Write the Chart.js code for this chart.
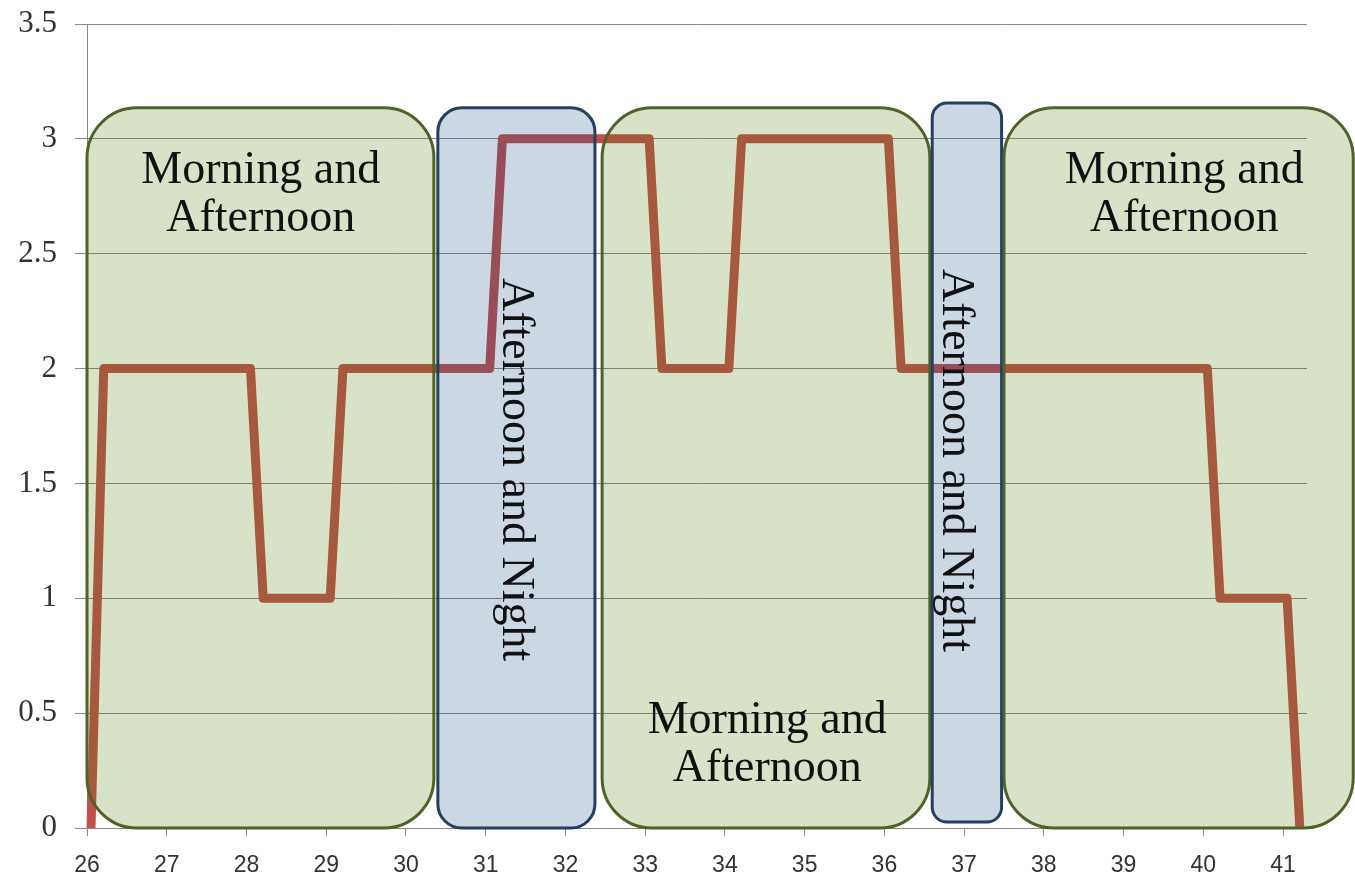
<!DOCTYPE html>
<html>
<head>
<meta charset="utf-8">
<script src="https://cdn.jsdelivr.net/npm/chart.js@4.4.1/dist/chart.umd.min.js"></script>
<style>
  html, body { margin: 0; padding: 0; background: #fff; }
  #wrap { width: 1355px; height: 876px; position: relative; }
</style>
</head>
<body>
<div id="wrap"><canvas id="shifts"></canvas></div>
<script>
// day of month where each step of the line starts / ends
const days = [26.05, 26.21, 28.05, 28.21, 29.05, 29.21, 31.05, 31.21, 33.05, 33.21,
              34.05, 34.21, 36.05, 36.21, 40.05, 40.21, 41.05, 41.21];
const level = [0, 2, 2, 1, 1, 2, 2, 3, 3, 2, 2, 3, 3, 2, 2, 1, 1, 0];

const xTicks = [26, 27, 28, 29, 30, 31, 32, 33, 34, 35, 36, 37, 38, 39, 40, 41];
const yTicks = [0, 0.5, 1, 1.5, 2, 2.5, 3, 3.5];

// shaded periods, in axis units
const periodKind = ['day', 'night', 'day', 'night', 'day'];
const periodFrom = [26.0, 30.40, 32.46, 36.60, 37.50];
const periodTo   = [30.35, 32.37, 36.57, 37.47, 41.88];
const periodLow  = [0, 0, 0, 0.026, 0];
const periodHigh = [3.135, 3.135, 3.135, 3.156, 3.135];

const periodText = ['Morning and\nAfternoon', 'Afternoon and Night', 'Morning and\nAfternoon',
                    'Afternoon and Night', 'Morning and\nAfternoon'];
const textX = [28.18, 31.37, 34.53, 36.885, 39.76];
const textY = [2.86, 1.56, 0.466, 1.60, 2.86];

const kindStyle = {
  day:   { fill: 'rgba(78,123,5,0.22)',  border: '#4f6228', radius: 50 },
  night: { fill: 'rgba(10,69,128,0.21)', border: '#243f60', radius: 24 }
};

const periods = {
  id: 'periods',
  afterDatasetsDraw(chart) {
    const { ctx, scales: { x, y } } = chart;
    ctx.save();
    periodKind.forEach((kind, i) => {
      const st = kindStyle[kind];
      const l = x.getPixelForValue(periodFrom[i]);
      const r = x.getPixelForValue(periodTo[i]);
      const t = y.getPixelForValue(periodHigh[i]);
      const b = y.getPixelForValue(periodLow[i]);
      const rad = Math.min(st.radius, (r - l) / 2 - 20);
      ctx.beginPath();
      ctx.roundRect(l, t, r - l, b - t, rad);
      ctx.fillStyle = st.fill;
      ctx.fill();
      ctx.lineWidth = 3;
      ctx.strokeStyle = st.border;
      ctx.stroke();
    });

    ctx.fillStyle = '#111';
    ctx.font = '46px "Liberation Serif", serif';
    ctx.textAlign = 'center';
    ctx.textBaseline = 'middle';
    periodText.forEach((txt, i) => {
      const cx = x.getPixelForValue(textX[i]);
      const cy = y.getPixelForValue(textY[i]);
      if (periodKind[i] === 'night') {
        ctx.save();
        ctx.translate(cx, cy);
        ctx.rotate(Math.PI / 2);
        ctx.fillText(txt, 0, 0);
        ctx.restore();
      } else {
        txt.split('\n').forEach((line, k) => ctx.fillText(line, cx, cy + k * 48));
      }
    });
    ctx.restore();
  }
};

new Chart(document.getElementById('shifts'), {
  type: 'line',
  data: {
    datasets: [{
      data: days.map((d, i) => ({ x: d, y: level[i] })),
      borderColor: '#c0504d',
      borderWidth: 9,
      borderJoinStyle: 'round',
      pointRadius: 0,
      tension: 0,
      clip: 8
    }]
  },
  options: {
    responsive: true,
    maintainAspectRatio: false,
    animation: false,
    layout: { padding: { top: 24, right: 48, left: 0, bottom: 0 } },
    plugins: { legend: { display: false }, tooltip: { enabled: false } },
    scales: {
      x: {
        type: 'linear',
        min: 26,
        max: 41.3,
        afterBuildTicks: s => { s.ticks = xTicks.map(v => ({ value: v })); },
        afterFit: s => { s.height = 48; s.paddingLeft = 0; s.paddingRight = 0; },
        ticks: { autoSkip: false, maxRotation: 0, padding: 16, color: '#333',
                 callback: v => String(v),
                 font: { family: '"Liberation Sans", sans-serif', size: 23 } },
        grid: { drawOnChartArea: false, tickLength: 8, color: '#888' },
        border: { color: '#888' }
      },
      y: {
        min: 0,
        max: 3.5,
        afterBuildTicks: s => { s.ticks = yTicks.map(v => ({ value: v })); },
        afterFit: s => { s.width = 87; s.paddingTop = 0; s.paddingBottom = 0; },
        ticks: { padding: 18, color: '#333',
                 callback: v => String(v),
                 font: { family: '"Liberation Serif", serif', size: 31 } },
        grid: { tickLength: 12, color: '#888' },
        border: { color: '#888' }
      }
    }
  },
  plugins: [periods]
});
</script>
</body>
</html>
